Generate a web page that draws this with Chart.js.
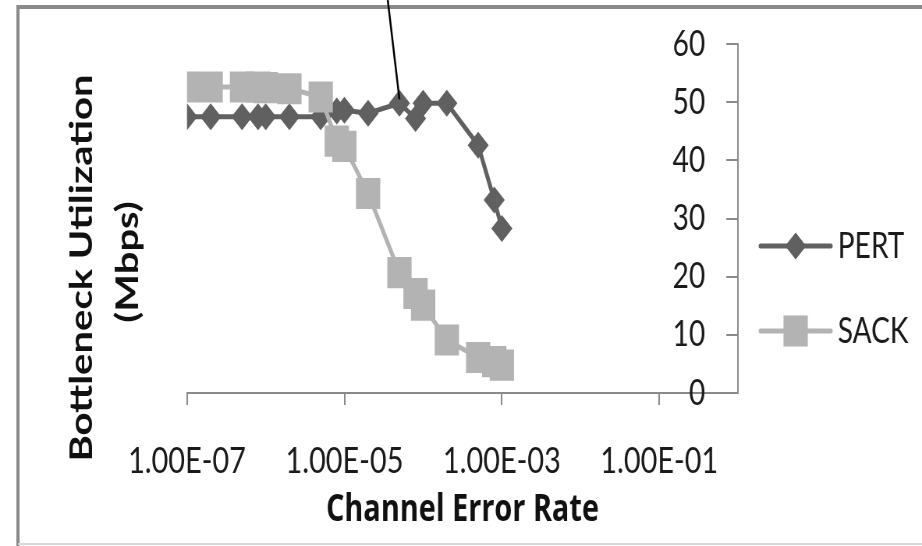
<!DOCTYPE html>
<html>
<head>
<meta charset="utf-8">
<script src="https://cdn.jsdelivr.net/npm/chart.js@4.4.1/dist/chart.umd.min.js"></script>
<style>
  html, body { margin: 0; padding: 0; background: #fff; }
  #grafico { display: block; }
</style>
</head>
<body>
<!-- drawn 1182 wide, shown 922 wide: glyphs and markers come out condensed -->
<canvas id="grafico" width="1182" height="546" style="width: 922px; height: 546px;"></canvas>
<script>
// channel error rate (x, log scale) and utilization in Mbps
const errorRates = [1e-7, 2e-7, 5e-7, 8e-7, 1e-6, 2e-6, 5e-6, 8e-6, 1e-5, 2e-5, 5e-5, 8e-5, 1e-4, 2e-4, 5e-4, 8e-4, 1e-3];
const pertMbps = [47.5, 47.5, 47.5, 47.5, 47.5, 47.5, 47.5, 48.5, 48.6, 48.1, 49.8, 47.2, 49.8, 49.8, 42.6, 33.2, 28.3];
const sackMbps = [52.6, 52.6, 52.6, 52.6, 52.5, 52.3, 50.9, 43.3, 42.4, 34.3, 20.7, 17.1, 15.1, 9.1, 6.1, 5.4, 4.8];
const seriesNames = ['PERT', 'SACK'];
const xTickValues = [1e-7, 1e-5, 1e-3, 1e-1];
const yMin = 0, yMax = 60, yStep = 10;

const W = 1182;
const axisGray = '#8a8a8a';
const textColor = '#1a1a1a';

// 1.00E-05 style labels
function sci(v) {
    const e = Math.round(Math.log10(v));
    const m = v / Math.pow(10, e);
    return m.toFixed(2) + 'E' + (e < 0 ? '-' : '+') + String(Math.abs(e)).padStart(2, '0');
}

function pares(ys) {
    return errorRates.map((x, i) => ({ x: x, y: ys[i] }));
}

const marco = {
    id: 'marco',
    beforeDraw(chart) {
        const c = chart.ctx;
        c.save();
        c.fillStyle = '#fff';
        c.fillRect(0, 0, chart.width, chart.height);
        c.strokeStyle = axisGray;
        c.lineWidth = 4;
        c.beginPath();
        c.moveTo(23, 546);
        c.lineTo(23, 7);
        c.lineTo(W + 5, 7);
        c.stroke();
        c.strokeStyle = '#d8d8d8';
        c.lineWidth = 2;
        c.beginPath();
        c.moveTo(23, 544);
        c.lineTo(W, 544);
        c.stroke();
        c.restore();
    }
};

const extras = {
    id: 'extras',
    afterDraw(chart) {
        const c = chart.ctx;
        c.save();

        // y axis title, two lines
        c.fillStyle = '#111';
        c.font = 'bold 40px Lato';
        c.textAlign = 'center';
        c.textBaseline = 'alphabetic';
        c.save();
        c.translate(118, 268);
        c.rotate(-Math.PI / 2);
        c.fillText('Bottleneck Utilization', 0, 0);
        c.restore();
        c.save();
        c.translate(177, 262);
        c.rotate(-Math.PI / 2);
        c.fillText('(Mbps)', 0, 0);
        c.restore();

        // legend: line + marker + name
        const filas = [246, 331];
        chart.data.datasets.forEach((ds, i) => {
            const y = filas[i];
            c.strokeStyle = ds.borderColor;
            c.lineWidth = ds.borderWidth;
            c.lineCap = 'round';
            c.beginPath();
            c.moveTo(975, y);
            c.lineTo(1065, y);
            c.stroke();
            c.fillStyle = ds.pointBackgroundColor;
            c.beginPath();
            if (ds.pointStyle === 'rectRot') {
                const r = ds.pointRadius;
                c.moveTo(1020 - r, y);
                c.lineTo(1020, y - r);
                c.lineTo(1020 + r, y);
                c.lineTo(1020, y + r);
                c.closePath();
            } else {
                const h = ds.pointRadius * Math.SQRT1_2;
                c.rect(1020 - h, y - h, 2 * h, 2 * h);
            }
            c.fill();
            c.fillStyle = textColor;
            c.font = '36px Lato';
            c.textAlign = 'left';
            c.textBaseline = 'middle';
            c.fillText(ds.label, 1074, y);
        });

        // callout line pointing at the PERT point at 5e-5
        const p = chart.getDatasetMeta(0).data[10];
        c.strokeStyle = '#000';
        c.lineWidth = 2.5;
        c.lineCap = 'butt';
        c.beginPath();
        c.moveTo(p.x - 15, 0);
        c.lineTo(p.x, p.y - 4);
        c.stroke();

        c.restore();
    }
};

const ctx = document.getElementById('grafico').getContext('2d');

const chart = new Chart(ctx, {
    type: 'line',
    data: {
        datasets: [{
            label: seriesNames[0],
            data: pares(pertMbps),
            borderColor: '#606060',
            backgroundColor: '#606060',
            pointBackgroundColor: '#606060',
            borderWidth: 5,
            pointStyle: 'rectRot',
            pointRadius: 13.5,
            pointBorderWidth: 0,
            order: 1
        }, {
            label: seriesNames[1],
            data: pares(sackMbps),
            borderColor: '#b3b3b3',
            backgroundColor: '#b3b3b3',
            pointBackgroundColor: '#b3b3b3',
            borderWidth: 5,
            pointStyle: 'rect',
            pointRadius: 22,
            pointBorderWidth: 0,
            order: 0
        }]
    },
    options: {
        responsive: false,
        devicePixelRatio: 1,
        animation: false,
        layout: { padding: { left: 239.7, right: 235.9, top: 44, bottom: 0 } },
        plugins: {
            legend: { display: false },
            tooltip: { enabled: false }
        },
        scales: {
            x: {
                type: 'logarithmic',
                position: 'bottom',
                min: 1e-7,
                max: 1,
                afterBuildTicks: s => { s.ticks = xTickValues.map(v => ({ value: v })); },
                afterFit: s => { s.height = 153; s.paddingLeft = 0; s.paddingRight = 0; },
                ticks: {
                    autoSkip: false,
                    maxRotation: 0,
                    padding: 34,
                    color: textColor,
                    font: { family: 'Lato', size: 37 },
                    callback: v => sci(v)
                },
                grid: { drawOnChartArea: false, tickLength: 12, color: axisGray, lineWidth: 2 },
                border: { color: axisGray, width: 2 },
                title: {
                    display: true,
                    text: 'Channel Error Rate',
                    color: '#111',
                    font: { family: 'Open Sans', weight: 'bold', size: 37 },
                    padding: { top: 0, bottom: 13 }
                }
            },
            y: {
                type: 'linear',
                position: 'right',
                min: yMin,
                max: yMax,
                afterFit: s => { s.width = 0; s.paddingTop = 0; s.paddingBottom = 0; },
                ticks: {
                    stepSize: yStep,
                    mirror: true,
                    // mirrored labels on a right axis: negative padding puts them left of the line
                    padding: -42,
                    color: textColor,
                    font: { family: 'Lato', size: 36 }
                },
                grid: { drawOnChartArea: false, tickLength: -15, color: axisGray, lineWidth: 2 },
                border: { color: axisGray, width: 2 }
            }
        }
    },
    plugins: [marco, extras]
});
</script>
</body>
</html>
